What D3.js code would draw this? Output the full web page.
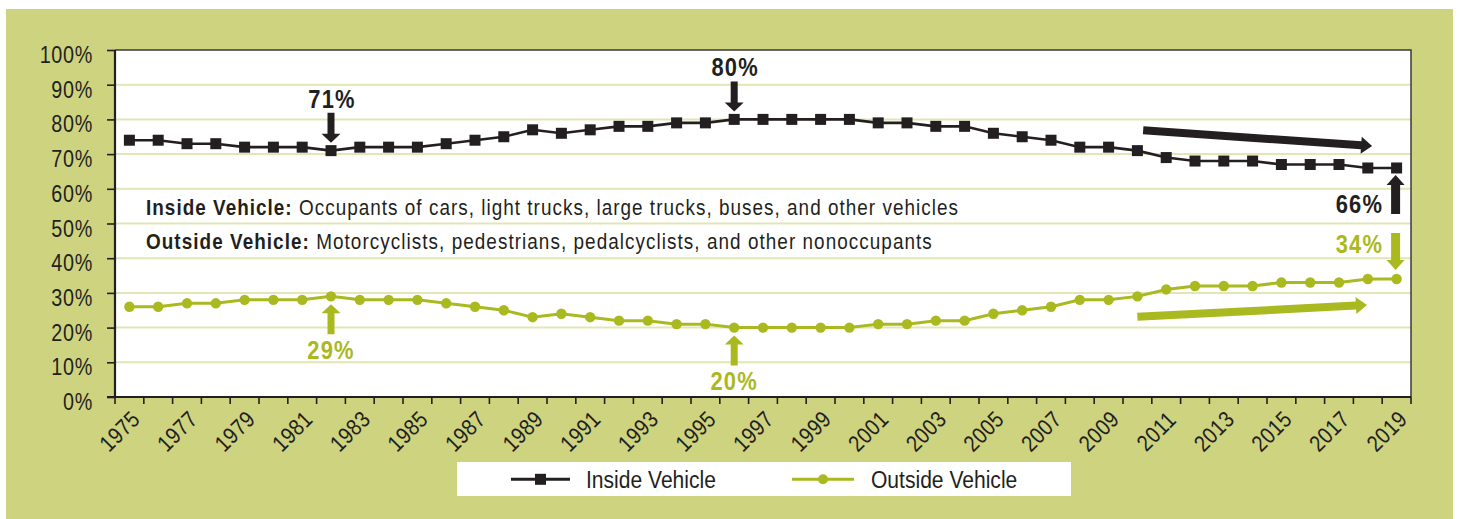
<!DOCTYPE html>
<html>
<head>
<meta charset="utf-8">
<script src="https://cdn.jsdelivr.net/npm/d3@7"></script>
<style>
  html, body { margin: 0; padding: 0; background: #ffffff; }
  svg { display: block; }
  text { font-family: "Liberation Sans", Arial, sans-serif; fill: #231f20; }
</style>
</head>
<body>
<svg id="chart" width="1460" height="519"></svg>
<script>
// ---------- data ----------
const years = [1975,1976,1977,1978,1979,1980,1981,1982,1983,1984,1985,1986,1987,1988,1989,1990,1991,1992,1993,1994,1995,1996,1997,1998,1999,2000,2001,2002,2003,2004,2005,2006,2007,2008,2009,2010,2011,2012,2013,2014,2015,2016,2017,2018,2019];
const insideVehicle  = [74,74,73,73,72,72,72,71,72,72,72,73,74,75,77,76,77,78,78,79,79,80,80,80,80,80,79,79,78,78,76,75,74,72,72,71,69,68,68,68,67,67,67,66,66];
const outsideVehicle = [26,26,27,27,28,28,28,29,28,28,28,27,26,25,23,24,23,22,22,21,21,20,20,20,20,20,21,21,22,22,24,25,26,28,28,29,31,32,32,32,33,33,33,34,34];
const yTicks = [0,10,20,30,40,50,60,70,80,90,100];
const yTickLabels = ["0%","10%","20%","30%","40%","50%","60%","70%","80%","90%","100%"];
const xTickLabels = ["1975","1977","1979","1981","1983","1985","1987","1989","1991","1993","1995","1997","1999","2001","2003","2005","2007","2009","2011","2013","2015","2017","2019"];
const seriesNames = ["Inside Vehicle","Outside Vehicle"];
// callouts: year, value, label, series
const callouts = [
  {year:1982, value:71, label:"71%", series:"inside", dir:"down"},
  {year:1996, value:80, label:"80%", series:"inside", dir:"down"},
  {year:1982, value:29, label:"29%", series:"outside", dir:"up"},
  {year:1996, value:20, label:"20%", series:"outside", dir:"up"},
  {year:2019, value:66, label:"66%", series:"inside", dir:"side-up"},
  {year:2019, value:34, label:"34%", series:"outside", dir:"side-down"}
];
// trend arrows (year, value) start -> end
const trends = [
  {series:"inside",  x0:2010.2, y0:76.9, x1:2018.15, y1:72.3},
  {series:"outside", x0:2010.0, y0:23.1, x1:2017.97, y1:26.5}
];
const noteLines = [
  {bold:"Inside Vehicle:", rest:" Occupants of cars, light trucks, large trucks, buses, and other vehicles"},
  {bold:"Outside Vehicle:", rest:" Motorcyclists, pedestrians, pedalcyclists, and other nonoccupants"}
];

// ---------- style ----------
const BLACK = "#231f20", GREEN = "#aab91f", PANEL = "#ced37f", GRID = "#e2e5b4";
const SX = 0.86; // horizontal condensing of the sans face

const svg = d3.select("#chart");
const W = 1460, H = 519;
const m = {left:115, right:1411, top:50, bottom:397};

svg.append("rect").attr("x",6).attr("y",9).attr("width",1447).attr("height",H-9).attr("fill",PANEL);

const x = d3.scaleBand().domain(years).range([m.left, m.right]).padding(0);
const cx = d => x(d) + x.bandwidth()/2;
const xl = d3.scaleLinear().domain([years[0], years[years.length-1]]).range([cx(years[0]), cx(years[years.length-1])]);
const y = d3.scaleLinear().domain([0,100]).range([m.bottom, m.top]);

function ctext(parent, tx, ty, extra) {
  return parent.append("text").attr("transform", `translate(${tx},${ty})${extra||""} scale(${SX},1)`);
}

// plot background
svg.append("rect").attr("x",m.left).attr("y",m.top).attr("width",m.right-m.left).attr("height",m.bottom-m.top).attr("fill","#fff");

// gridlines
svg.append("g").selectAll("line").data(yTicks.filter(v => v>0 && v<100)).join("line")
  .attr("x1",m.left).attr("x2",m.right).attr("y1",d=>y(d)).attr("y2",d=>y(d))
  .attr("stroke",GRID).attr("stroke-width",2);

// frame top/right
svg.append("path").attr("d",`M${m.left},${m.top}H${m.right}V${m.bottom}`).attr("fill","none").attr("stroke","#3a3a3a").attr("stroke-width",1.5);

// y axis
const yAxis = d3.axisLeft(y).tickValues(yTicks).tickFormat((d,i)=>yTickLabels[i]).tickSize(8).tickPadding(14);
const gy = svg.append("g").attr("transform",`translate(${m.left},0)`).call(yAxis);
gy.select(".domain").attr("stroke",BLACK).attr("stroke-width",2.2).attr("d",`M-8,${m.bottom}H0V${m.top}`);
gy.selectAll(".tick line").attr("stroke",BLACK).attr("stroke-width",1.6);
gy.selectAll(".tick text").attr("x",0).attr("dy",0).attr("transform",`translate(-22,12.5) scale(${SX},1)`)
  .attr("font-size",23).attr("letter-spacing",0.8).attr("fill",BLACK)
  .style("font-family",'"Liberation Sans", Arial, sans-serif');

// x axis with ticks at band boundaries
const boundaries = years.map(d => x(d)).concat([m.right]);
const gx = svg.append("g");
gx.append("line").attr("x1",m.left).attr("x2",m.right).attr("y1",m.bottom).attr("y2",m.bottom).attr("stroke",BLACK).attr("stroke-width",2.2);
gx.selectAll("line.t").data(boundaries).join("line").attr("class","t")
  .attr("x1",d=>d).attr("x2",d=>d).attr("y1",m.bottom).attr("y2",m.bottom+7).attr("stroke",BLACK).attr("stroke-width",1.6);
gx.selectAll("text").data(xTickLabels).join("text")
  .attr("transform", d => `translate(${cx(+d)-9.5},${431.5}) rotate(-45) scale(${SX},1)`)
  .attr("text-anchor","middle").attr("dominant-baseline","central")
  .attr("font-size",23).attr("letter-spacing",0.5).text(d=>d);

// note lines (fit to reference widths)
const noteTargets = [813, 787];
noteLines.forEach((n,i) => {
  const t = ctext(svg, 146, [215,249][i]).attr("font-size",22);
  t.append("tspan").attr("font-weight","bold").text(n.bold);
  t.append("tspan").text(n.rest);
  const len = t.node().getComputedTextLength();
  const chars = (n.bold + n.rest).length;
  const ls = (noteTargets[i]/SX - len) / chars;
  t.attr("letter-spacing", ls.toFixed(2));
});

// lines
const line = d3.line().x((d,i)=>cx(years[i])).y(d=>y(d));
svg.append("path").datum(insideVehicle).attr("d",line).attr("fill","none").attr("stroke",BLACK).attr("stroke-width",2.6);
svg.append("path").datum(outsideVehicle).attr("d",line).attr("fill","none").attr("stroke",GREEN).attr("stroke-width",3);
svg.append("g").selectAll("rect").data(insideVehicle).join("rect")
  .attr("x",(d,i)=>cx(years[i])-5.5).attr("y",d=>y(d)-5.5).attr("width",11).attr("height",11).attr("fill",BLACK);
svg.append("g").selectAll("circle").data(outsideVehicle).join("circle")
  .attr("cx",(d,i)=>cx(years[i])).attr("cy",d=>y(d)).attr("r",5.2).attr("fill",GREEN);

// callouts
function vArrow(px, yStart, yTip, shaftW, headW, headH) {
  const s = Math.sign(yTip - yStart);
  const hb = yTip - s*headH;
  return `M${px-shaftW/2},${yStart}L${px+shaftW/2},${yStart}L${px+shaftW/2},${hb}L${px+headW/2},${hb}L${px},${yTip}L${px-headW/2},${hb}L${px-shaftW/2},${hb}Z`;
}
callouts.forEach(c => {
  const px = cx(c.year), py = y(c.value);
  const col = c.series === "inside" ? BLACK : GREEN;
  let path, tx, ty, anchor = "middle";
  if (c.dir === "down") { path = vArrow(px, py-38, py-8, 7, 19, 9); tx = px+1; ty = py-43; }
  else if (c.dir === "up") { path = vArrow(px, py+38, py+8, 7, 19, 9); tx = px; ty = py+62.5; }
  else if (c.dir === "side-up") { path = vArrow(px-1, py+46, py+7, 9, 18, 10); tx = px-13.5; ty = py+45; anchor = "end"; }
  else { path = vArrow(px-1, py-46, py-9, 9, 18, 10); tx = px-13.5; ty = py-26; anchor = "end"; }
  svg.append("path").attr("d",path).attr("fill",col);
  ctext(svg, tx, ty).attr("text-anchor",anchor).attr("font-size",25.5).attr("font-weight","bold")
    .attr("letter-spacing",1.4).style("fill",col).text(c.label);
});

// trend arrows
trends.forEach(t => {
  const col = t.series === "inside" ? BLACK : GREEN;
  const x0 = xl(t.x0), y0 = y(t.y0), x1 = xl(t.x1), y1 = y(t.y1);
  const L = Math.hypot(x1-x0, y1-y0), ang = Math.atan2(y1-y0, x1-x0)*180/Math.PI;
  const sw = 8, hw = 17, hl = 11;
  svg.append("path")
    .attr("d",`M0,${-sw/2}L${L-hl},${-sw/2}L${L-hl},${-hw/2}L${L},0L${L-hl},${hw/2}L${L-hl},${sw/2}L0,${sw/2}Z`)
    .attr("transform",`translate(${x0},${y0}) rotate(${ang})`).attr("fill",col);
});

// legend
const lg = svg.append("g");
lg.append("rect").attr("x",457).attr("y",462).attr("width",614).attr("height",34).attr("fill","#fff");
const legendItems = [
  {name:seriesNames[0], col:BLACK, x0:511, x1:570, tx:586, mark:"square"},
  {name:seriesNames[1], col:GREEN, x0:792, x1:854, tx:871, mark:"circle"}
];
legendItems.forEach(li => {
  lg.append("line").attr("x1",li.x0).attr("x2",li.x1).attr("y1",479.3).attr("y2",479.3).attr("stroke",li.col).attr("stroke-width",3);
  const mx = (li.x0+li.x1)/2;
  if (li.mark === "square") lg.append("rect").attr("x",mx-5.5).attr("y",479.3-5.5).attr("width",11).attr("height",11).attr("fill",li.col);
  else lg.append("circle").attr("cx",mx).attr("cy",479.3).attr("r",5).attr("fill",li.col);
  ctext(lg, li.tx, 479.3 + 8.8).attr("font-size",24.5).attr("letter-spacing",0).text(li.name);
});
</script>
</body>
</html>
